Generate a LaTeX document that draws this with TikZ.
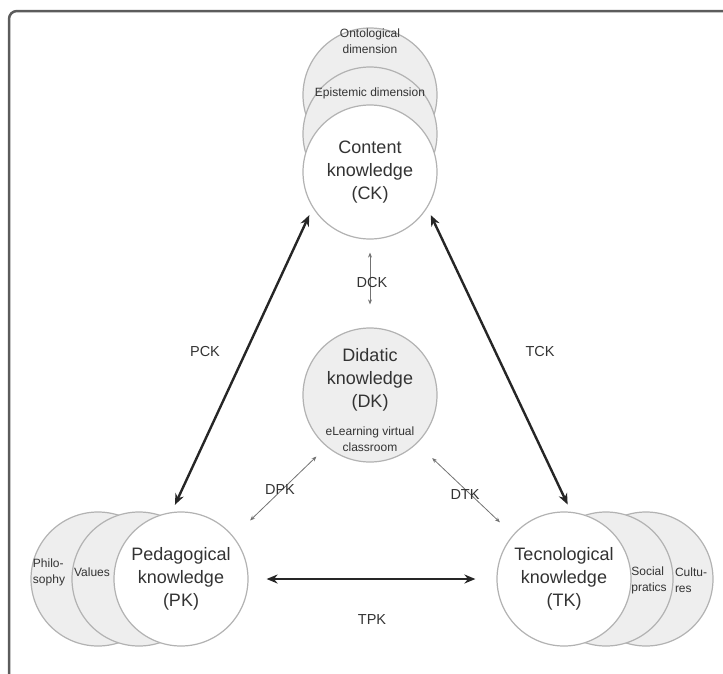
\documentclass[tikz,border=0pt]{standalone}
\usepackage{fontspec}
\setmainfont{Liberation Sans}
\usetikzlibrary{positioning,arrows.meta}
\definecolor{ringgray}{HTML}{B2B2B2}
\definecolor{shade}{HTML}{EEEEEE}
\definecolor{inkgray}{HTML}{333333}
\definecolor{framegray}{HTML}{5C5C5C}
\begin{document}
\begin{tikzpicture}[x=1pt,y=-1pt]
        \tikzstyle{every node}=[text=inkgray]
        \tikzstyle{ring}=[circle,draw=ringgray,line width=1.2pt,minimum size=134pt,inner sep=0pt,fill=shade]
        \tikzstyle{front}=[ring,fill=white]
        \tikzstyle{big}=[align=center,font=\fontsize{18}{23}\selectfont]
        \tikzstyle{small}=[align=center,font=\fontsize{12}{16}\selectfont]
        \tikzstyle{tag}=[font=\fontsize{14.5}{17}\selectfont,text=black!80]
        \tikzstyle{strong}=[{Stealth[length=11pt,width=9pt]}-{Stealth[length=11pt,width=9pt]},line width=2.4pt,black!85]
        \tikzstyle{weak}=[{Stealth[length=5pt,width=4pt]}-{Stealth[length=5pt,width=4pt]},line width=0.8pt,black!55]
        \useasboundingbox (0,0) rectangle (723,673);
        \draw[framegray,line width=2.5pt,rounded corners=8pt] (9,690) -- (9,11) -- (740,11);
        % content knowledge and its dimensions
        \node[ring] (ont) at (370,95) {};
        \node[ring] (epi) at (370,134) {};
        \node[front,big] (ck) at (370,172) {Content\\knowledge\\(CK)};
        % didactic knowledge
        \node[ring] (dk) at (370,395) {};
        % pedagogical knowledge
        \node[ring] (phil) at (98,579) {};
        \node[ring] (val) at (139,579) {};
        \node[front,big] (pk) at (181,579) {Pedagogical\\knowledge\\(PK)};
        % technological knowledge
        \node[ring] (cult) at (646,579) {};
        \node[ring] (soc) at (606,579) {};
        \node[front,big] (tk) at (564,579) {Tecnological\\knowledge\\(TK)};
        % texts of the rings
        \node[small] (onttxt) at (370,41) {Ontological\\dimension};
        \node[small] (epitxt) at (370,93) {Epistemic dimension};
        \node[big] (dktxt) at (370,380) {Didatic\\knowledge\\(DK)};
        \node[small] (dkweb) at (370,439) {eLearning virtual\\classroom};
        \node[small,align=left] (philtxt) at (49,572) {Philo-\\sophy};
        \node[small] (valtxt) at (92,572) {Values};
        \node[small,align=left] (soctxt) at (649,580) {Social\\pratics};
        \node[small,align=left] (culttxt) at (691,580) {Cultu-\\res};
        % relations
        \draw[strong,shorten <=8pt,shorten >=8pt] (ck.212) -- (pk.98);
        \draw[strong,shorten <=8pt,shorten >=8pt] (ck.328) -- (tk.84);
        \draw[strong,shorten <=18pt,shorten >=21pt] (pk.east) -- (tk.west);
        \draw[weak,shorten <=13pt,shorten >=23pt] (ck.south) -- (dk.north);
        \draw[weak,shorten <=14pt,shorten >=23pt] (dk.230) -- (pk.39);
        \draw[weak,shorten <=21pt,shorten >=18pt] (dk.314) -- (tk.139);
        \node[tag] (pcklbl) at (205,352) {PCK};
        \node[tag] (tcklbl) at (540,352) {TCK};
        \node[tag] (dcklbl) at (372,283) {DCK};
        \node[tag] (dpklbl) at (280,490) {DPK};
        \node[tag] (dtklbl) at (465,495) {DTK};
        \node[tag] (tpklbl) at (372,620) {TPK};
    \end{tikzpicture}
\end{document}
